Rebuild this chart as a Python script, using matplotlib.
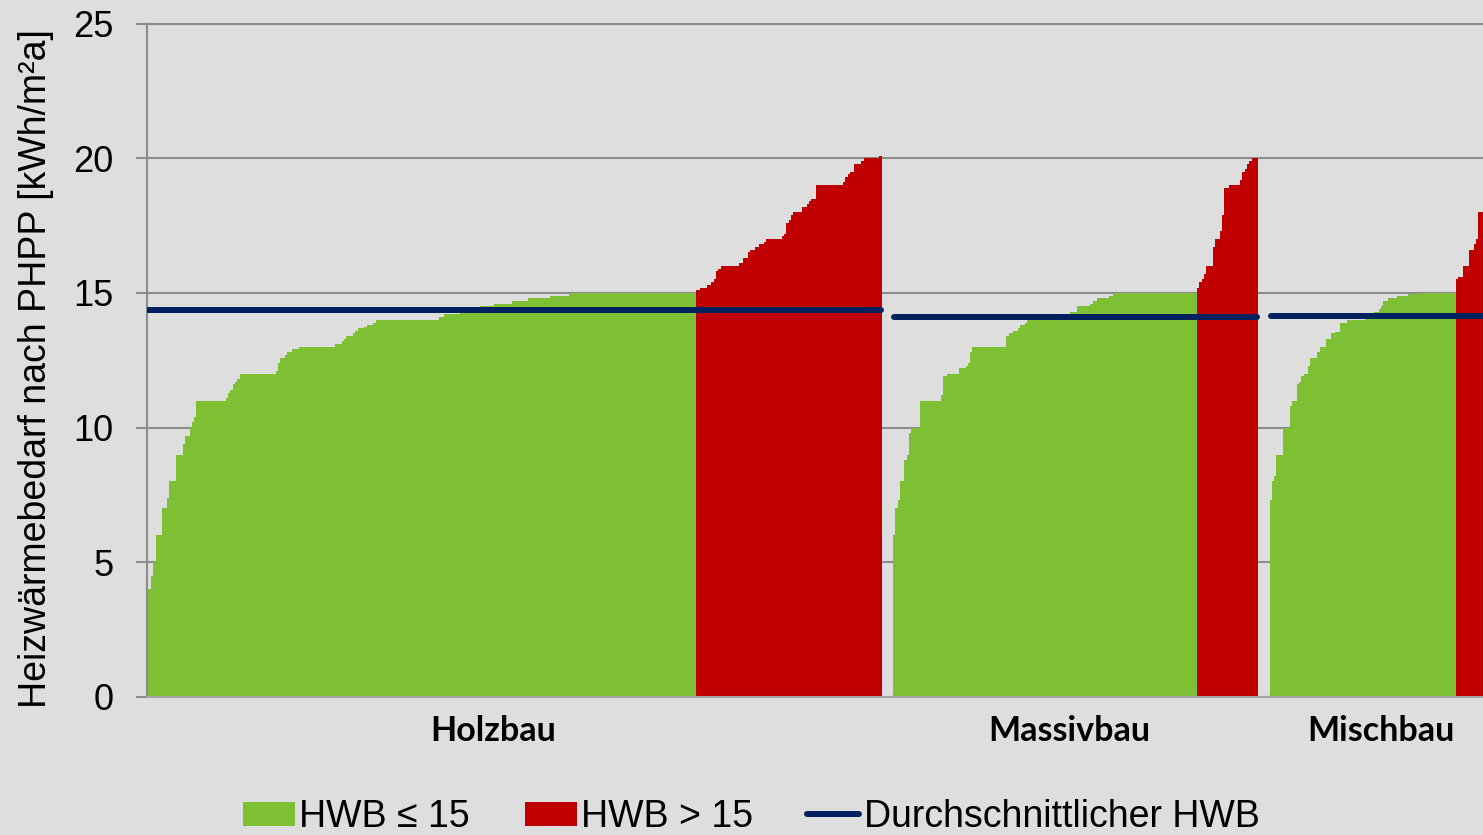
import numpy as np
import matplotlib.pyplot as plt
from matplotlib.patches import Patch
from matplotlib.lines import Line2D

plt.rcParams['font.family'] = ['Liberation Sans', 'DejaVu Sans']

# sortierte HWB-Werte je Bauweise, als (Wert, Anzahl Gebaeude)
gruppen = ['Holzbau', 'Massivbau', 'Mischbau']

holz_werte = [4.0, 4.5, 5.0, 6.0, 7.0, 7.4, 8.0, 9.0, 9.4, 9.7, 10.0, 10.2, 10.4, 11.0,
              11.1, 11.3, 11.4, 11.6, 11.7, 11.8, 12.0, 12.1, 12.4, 12.6, 12.7, 12.8, 12.9, 13.0,
              13.1, 13.2, 13.3, 13.4, 13.5, 13.6, 13.7, 13.75, 13.8, 13.9, 14.0, 14.1, 14.2, 14.3, 14.4,
              14.5, 14.6, 14.7, 14.8, 14.9, 15.0,
              15.1, 15.2, 15.3, 15.4, 15.5, 15.8, 15.9, 16.0, 16.1, 16.3, 16.5, 16.6, 16.7, 16.8, 16.9, 17.0,
              17.1, 17.2, 17.6, 17.7, 17.9, 18.0, 18.2, 18.3, 18.4, 18.5, 19.0, 19.1, 19.3, 19.4, 19.5,
              19.8, 19.9, 20.0, 20.1]
holz_anzahl = [2, 1, 1, 3, 2, 1, 3, 3, 1, 2, 1, 1, 1, 13,
               1, 1, 1, 1, 1, 1, 16, 1, 1, 2, 1, 2, 3, 16,
               3, 1, 1, 3, 1, 1, 3, 1, 3, 1, 28, 2, 7, 4, 5,
               6, 8, 7, 10, 8, 56,
               2, 3, 2, 1, 1, 1, 1, 8, 2, 2, 1, 2, 2, 2, 1, 7,
               1, 1, 1, 1, 1, 4, 2, 1, 1, 2, 12, 1, 1, 1, 2,
               3, 1, 7, 1]

massiv_werte = [6.0, 7.0, 7.3, 8.0, 8.8, 9.0, 9.8, 10.0,
                11.0, 11.2, 11.9, 12.0, 12.2, 12.3, 12.4, 12.8, 13.0,
                13.4, 13.5, 13.6, 13.7, 13.8, 13.9,
                14.0, 14.1, 14.2, 14.3, 14.5, 14.6, 14.7, 14.8, 14.9, 15.0,
                15.2, 15.4, 15.5, 15.7, 16.0, 16.7, 17.0, 17.3, 17.9,
                18.9, 19.0, 19.2, 19.5, 19.6, 19.8, 19.9, 20.0]
massiv_anzahl = [1, 1, 1, 2, 1, 1, 1, 4,
                 9, 1, 2, 5, 3, 1, 1, 1, 15,
                 1, 2, 2, 1, 2, 1,
                 6, 5, 8, 3, 6, 1, 2, 5, 2, 37,
                 1, 1, 1, 1, 3, 1, 2, 1, 1,
                 2, 5, 1, 1, 1, 1, 1, 3]

misch_werte = [7.3, 8.0, 8.2, 9.0, 10.0,
               10.8, 11.0, 11.6, 11.7, 11.9, 12.0,
               12.3, 12.6, 12.8, 13.0, 13.3, 13.5, 13.55, 13.9,
               14.0, 14.1, 14.2, 14.3, 14.4, 14.5,
               14.7, 14.8, 14.9, 14.95, 15.0,
               15.5, 15.6, 16.0, 16.6, 16.8, 17.0, 18.0]
misch_anzahl = [1, 1, 1, 3, 3,
                1, 2, 1, 1, 1, 2,
                1, 3, 1, 3, 2, 2, 2, 3,
                8, 2, 2, 2, 1, 1,
                2, 4, 5, 5, 16,
                1, 2, 3, 2, 1, 1, 3]

mittelwerte = [14.37, 14.12, 14.15]

gruen = '#7DC034'
rot = '#C00000'
blau = '#002060'
hg = '#DEDEDE'
grau = '#8C8C8C'

fig = plt.figure(figsize=(14.83, 8.35), dpi=100, facecolor=hg)
ax = fig.add_axes([146.5 / 1483, 138 / 835, 1361.4 / 1483, 673.5 / 835])
ax.set_facecolor(hg)

luecke = 5  # leere Kategorien zwischen den Gruppen
x0 = 0
for werte, anzahl, mittel in zip([holz_werte, massiv_werte, misch_werte],
                                 [holz_anzahl, massiv_anzahl, misch_anzahl],
                                 mittelwerte):
    hwb = np.repeat(werte, anzahl)
    x = x0 + np.arange(len(hwb))
    farben = np.where(hwb <= 15, gruen, rot)
    ax.bar(x, hwb, width=1.0, align='edge', color=farben, linewidth=0,
           antialiased=False, zorder=2)
    ax.plot([x[0] + 0.5, x[-1] + 0.5], [mittel, mittel], color=blau, lw=4.3,
            solid_capstyle='round', zorder=3)
    x0 += len(hwb) + luecke

ax.set_xlim(0, 600)
ax.set_ylim(0, 25)
ax.set_yticks([0, 5, 10, 15, 20, 25])
ax.set_xticks([])
ax.tick_params(axis='y', labelsize=26, length=8, width=1.5, color=grau, pad=16)
ax.yaxis.grid(True, color=grau, lw=1.5)
ax.set_axisbelow(True)

for s in ['left', 'top']:
    ax.spines[s].set_color(grau)
    ax.spines[s].set_linewidth(1.5)
ax.spines['bottom'].set_color('#A6A6A6')
ax.spines['bottom'].set_linewidth(1.5)
ax.spines['right'].set_visible(False)

# Gruppenbeschriftung
label_pos = [152.8, 406.9, 544.0]
for pos, name in zip(label_pos, gruppen):
    ax.text(pos, -0.0653, name, transform=ax.get_xaxis_transform(),
            ha='center', va='baseline', fontsize=24.5, fontweight='bold',
            family=['Lato', 'DejaVu Sans'])

fig.text(36 / 1483, 0.5587, 'Heizwärmebedarf nach PHPP [kWh/m²a]', rotation=90,
         ha='center', va='center', fontsize=27)

handles = [Patch(facecolor=gruen, edgecolor='none'),
           Patch(facecolor=rot, edgecolor='none'),
           Line2D([], [], color=blau, lw=4.3, solid_capstyle='round')]
labels = ['HWB ≤ 15', 'HWB > 15', 'Durchschnittlicher HWB']
fig.legend(handles, labels, loc='center', bbox_to_anchor=(0.5066, 0.0215), ncol=3,
           frameon=False, fontsize=27, handlelength=1.39, handleheight=0.6,
           handletextpad=0.11, columnspacing=1.45, borderpad=0, borderaxespad=0)

fig.savefig('out.png', dpi=100, facecolor=hg)
